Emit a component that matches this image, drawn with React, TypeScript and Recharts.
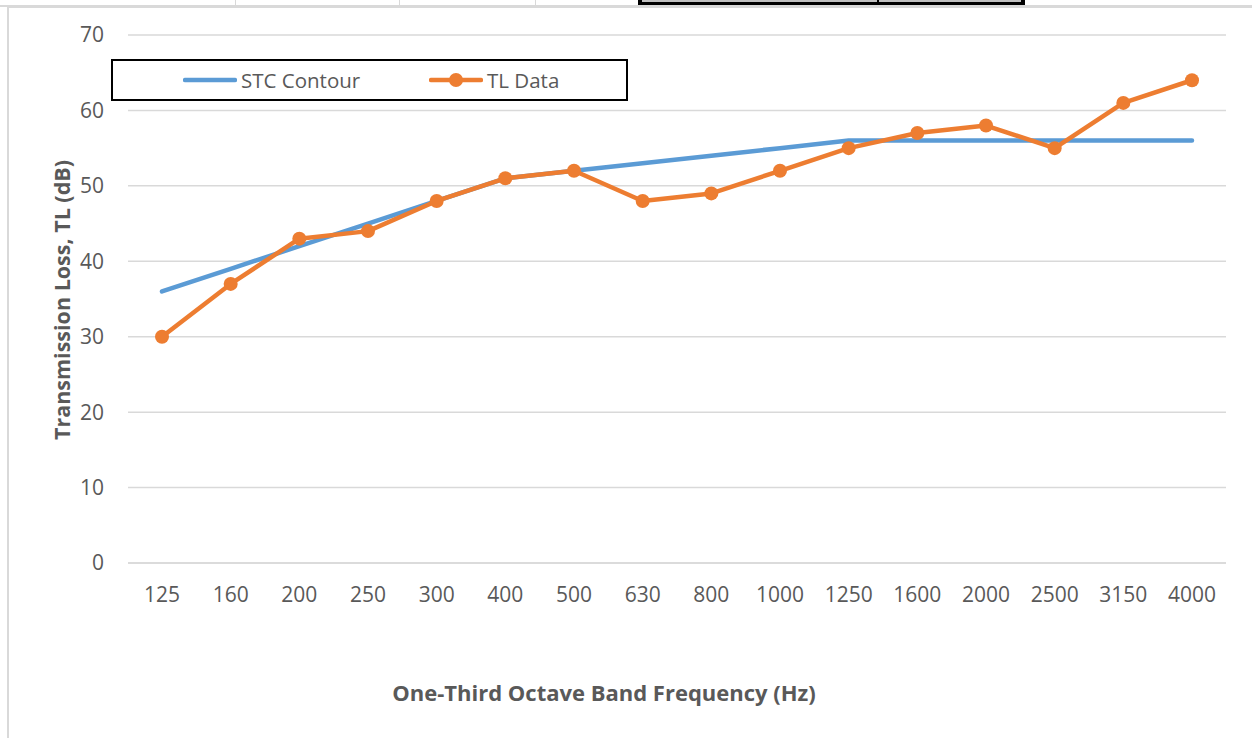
import React from "react";
import { LineChart, Line, XAxis, YAxis, CartesianGrid } from "recharts";

const frequencies = ["125", "160", "200", "250", "300", "400", "500", "630", "800", "1000", "1250", "1600", "2000", "2500", "3150", "4000"];
const stcContour = [36, 39, 42, 45, 48, 51, 52, 53, 54, 55, 56, 56, 56, 56, 56, 56];
const tlData = [30, 37, 43, 44, 48, 51, 52, 48, 49, 52, 55, 57, 58, 55, 61, 64];
const yTicks = [0, 10, 20, 30, 40, 50, 60, 70];

const data = frequencies.map((f, i) => ({ freq: f, stc: stcContour[i], tl: tlData[i] }));

const BLUE = "#5B9BD5";
const ORANGE = "#ED7D31";
const TEXT = "#595959";
const FONT = "'Open Sans', sans-serif";

function LegendBox() {
  return (
    <div
      style={{
        position: "absolute",
        left: 111,
        top: 59,
        border: "2px solid #000",
        width: 517,
        height: 42,
        display: "flex",
        alignItems: "center",
        fontFamily: FONT,
        fontSize: 20.5,
        color: TEXT,
        boxSizing: "border-box",
        background: "#fff",
      }}
    >
      <svg width={54} height={10} style={{ marginLeft: 70 }}>
        <line x1={2} y1={5} x2={52} y2={5} stroke={BLUE} strokeWidth={4.5} strokeLinecap="round" />
      </svg>
      <span style={{ marginLeft: 4, width: 188 }}>STC Contour</span>
      <svg width={54} height={16}>
        <line x1={2} y1={8} x2={52} y2={8} stroke={ORANGE} strokeWidth={4.5} strokeLinecap="round" />
        <circle cx={27} cy={8} r={7} fill={ORANGE} />
      </svg>
      <span style={{ marginLeft: 4 }}>TL Data</span>
    </div>
  );
}

export default function App() {
  return (
    <div style={{ position: "absolute", left: 0, top: 0, width: 1252, height: 738, overflow: "hidden", background: "#fff" }}>
      {/* fragment of the table above the chart */}
      <div style={{ position: "absolute", left: 0, top: 5, width: 1252, height: 2, background: "#d9d9d9" }} />
      {[235, 399, 535].map((x) => (
        <div key={x} style={{ position: "absolute", left: x, top: 0, width: 1, height: 6, background: "#d9d9d9" }} />
      ))}
      <div style={{ position: "absolute", left: 638, top: 0, width: 387, height: 5, background: "#000" }} />
      <div style={{ position: "absolute", left: 642, top: 0, width: 235, height: 2, background: "#c0c0c0" }} />
      <div style={{ position: "absolute", left: 879, top: 0, width: 142, height: 2, background: "#c0c0c0" }} />
      {/* chart frame */}
      <div style={{ position: "absolute", left: 7, top: 6, width: 1300, height: 800, borderLeft: "2px solid #d9d9d9", borderTop: "2px solid #d9d9d9" }} />

      <div style={{ position: "absolute", left: 0, top: 0 }}>
        <LineChart width={1252} height={738} data={data} margin={{ top: 35, right: 26, bottom: 135, left: 68 }}>
          <CartesianGrid vertical={false} stroke="#d9d9d9" strokeWidth={1.5} />
          <XAxis
            dataKey="freq"
            padding={{ left: 34, right: 34 }}
            axisLine={{ stroke: "#d9d9d9", strokeWidth: 1.5 }}
            tickLine={false}
            tickSize={0}
            tickMargin={24}
            height={40}
            interval={0}
            tick={{ fill: TEXT, fontSize: 21, fontFamily: FONT }}
          />
          <YAxis
            domain={[0, 70]}
            ticks={yTicks}
            width={60}
            axisLine={false}
            tickLine={false}
            tickSize={0}
            tickMargin={24}
            tick={{ fill: TEXT, fontSize: 21, fontFamily: FONT }}
          />
          <Line dataKey="stc" name="STC Contour" stroke={BLUE} strokeWidth={4.5} dot={false} isAnimationActive={false} strokeLinejoin="round" strokeLinecap="round" />
          <Line
            dataKey="tl"
            name="TL Data"
            stroke={ORANGE}
            strokeWidth={4.5}
            dot={{ r: 7, fill: ORANGE, stroke: ORANGE, strokeWidth: 0 }}
            isAnimationActive={false}
            strokeLinejoin="round"
          />
        </LineChart>
      </div>

      <LegendBox />

      <div
        style={{
          position: "absolute",
          left: 604,
          top: 692,
          transform: "translate(-50%, -50%)",
          whiteSpace: "nowrap",
          fontFamily: FONT,
          fontWeight: 700,
          fontSize: 22,
          color: TEXT,
        }}
      >
        One-Third Octave Band Frequency (Hz)
      </div>
      <div
        style={{
          position: "absolute",
          left: 61,
          top: 300,
          transform: "translate(-50%, -50%) rotate(-90deg)",
          whiteSpace: "nowrap",
          fontFamily: FONT,
          fontWeight: 700,
          fontSize: 21.5,
          color: TEXT,
        }}
      >
        Transmission Loss, TL (dB)
      </div>
    </div>
  );
}
